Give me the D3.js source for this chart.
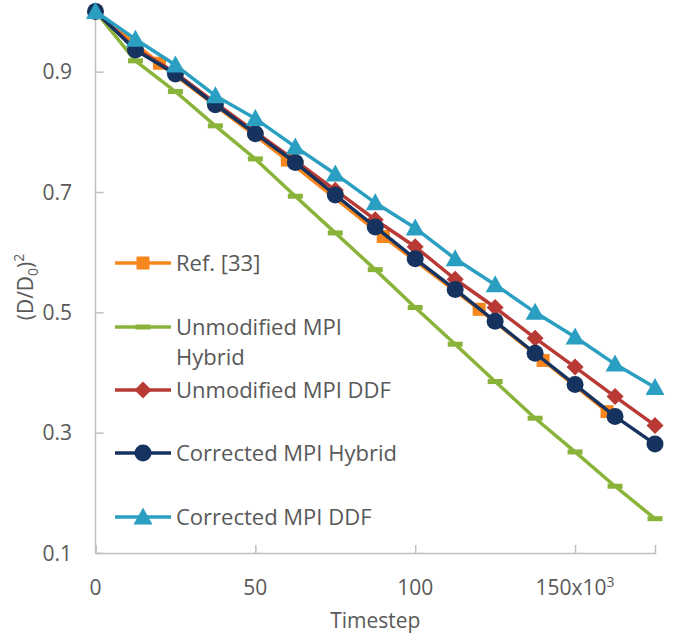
<!DOCTYPE html>
<html><head><meta charset="utf-8">
<script src="https://cdn.jsdelivr.net/npm/d3@7"></script>
<style>
body{margin:0;background:#fff;}
text{font-family:"Open Sans",sans-serif;fill:#595959;}
</style></head>
<body><svg id="c" width="677" height="640"></svg>
<script>
// Data
const timesteps = [0,12.5,25,37.5,50,62.5,75,87.5,100,112.5,125,137.5,150,162.5,175];
const refX = [0,20,60,90,120,140,160];
const refY = [1.0,0.914,0.753,0.626,0.505,0.420,0.335];
const unmodHybrid = [1.0,0.918,0.867,0.810,0.755,0.693,0.632,0.571,0.508,0.447,0.385,0.324,0.268,0.211,0.157];
const unmodDDF = [1.0,0.938,0.898,0.848,0.800,0.752,0.703,0.654,0.609,0.555,0.508,0.457,0.409,0.360,0.312];
const corrHybrid = [1.0,0.936,0.896,0.845,0.797,0.749,0.695,0.642,0.589,0.538,0.485,0.432,0.380,0.327,0.281];
const corrDDF = [1.0,0.954,0.911,0.860,0.822,0.775,0.730,0.682,0.640,0.589,0.546,0.500,0.459,0.414,0.375];
const xTicks = [0,50,100,150];
const yTicks = [0.1,0.3,0.5,0.7,0.9];
const legendNames = ["Ref. [33]","Unmodified MPI Hybrid","Unmodified MPI DDF","Corrected MPI Hybrid","Corrected MPI DDF"];

const svg = d3.select("#c");
const x = d3.scaleLinear().domain([0,175]).range([95.5,655]);
const y = d3.scaleLinear().domain([0.1,1.0]).range([553,11.5]);
const axisCol = "#bfbfbf";

// axes
const gx = svg.append("g").attr("transform","translate(0,553)")
  .call(d3.axisBottom(x).tickValues(xTicks).tickSize(-8).tickFormat(""));
const gy = svg.append("g").attr("transform","translate(95.5,0)")
  .call(d3.axisLeft(y).tickValues(yTicks).tickSize(-8).tickFormat(""));
[gx,gy].forEach(g=>{g.select(".domain").attr("stroke",axisCol).attr("stroke-width",1.5);
  g.selectAll(".tick line").attr("stroke",axisCol).attr("stroke-width",1.5);});
gy.select(".domain").attr("d","M0,"+y(1.0)+"V553");

// tick labels
xTicks.forEach(t=>{
  const tx = svg.append("text").attr("x",x(t)).attr("y",595).attr("text-anchor","middle")
    .style("font-size","21px");
  if(t===150){tx.text("150x10"); tx.append("tspan").attr("dy",-8).style("font-size","14px").text("3");}
  else tx.text(t);
});
yTicks.forEach(t=>{
  svg.append("text").attr("x",72).attr("y",y(t)+7.5).attr("text-anchor","end")
    .style("font-size","21px").text(d3.format(".1f")(t));
});
svg.append("text").attr("x",x(87.5)).attr("y",628).attr("text-anchor","middle")
  .style("font-size","21px").text("Timestep");
const yt = svg.append("text").attr("transform","translate(33,287) rotate(-90)")
  .attr("text-anchor","middle").style("font-size","21px");
yt.append("tspan").text("(D/D");
yt.append("tspan").attr("dy",5).style("font-size","14px").text("0");
yt.append("tspan").attr("dy",-5).text(")");
yt.append("tspan").attr("dy",-9).style("font-size","14px").text("2");

// series
const series = [
  {name:legendNames[0], xs:refX, ys:refY, color:"#f7861c", marker:"square"},
  {name:legendNames[1], xs:timesteps, ys:unmodHybrid, color:"#8ab33a", marker:"dash"},
  {name:legendNames[2], xs:timesteps, ys:unmodDDF, color:"#b93a35", marker:"diamond"},
  {name:legendNames[3], xs:timesteps, ys:corrHybrid, color:"#16335f", marker:"circle"},
  {name:legendNames[4], xs:timesteps, ys:corrDDF, color:"#2b9fc1", marker:"triangle"}
];
function drawMarker(g, m, cx, cy, col){
  if(m==="square") g.append("rect").attr("x",cx-6.5).attr("y",cy-6.5).attr("width",13).attr("height",13).attr("fill",col);
  else if(m==="dash") g.append("rect").attr("x",cx-7.5).attr("y",cy-2.5).attr("width",15).attr("height",5).attr("fill",col);
  else if(m==="diamond") g.append("path").attr("d",`M${cx},${cy-8.5}L${cx+8.5},${cy}L${cx},${cy+8.5}L${cx-8.5},${cy}Z`).attr("fill",col);
  else if(m==="circle") g.append("circle").attr("cx",cx).attr("cy",cy).attr("r",8.5).attr("fill",col);
  else if(m==="triangle") g.append("path").attr("d",`M${cx},${cy-9.5}L${cx+9.5},${cy+7.5}L${cx-9.5},${cy+7.5}Z`).attr("fill",col);
}
const line = d3.line().x(d=>x(d[0])).y(d=>y(d[1]));
series.forEach(s=>{
  const pts = s.xs.map((v,i)=>[v,s.ys[i]]);
  const g = svg.append("g");
  g.append("path").datum(pts).attr("d",line).attr("fill","none").attr("stroke",s.color).attr("stroke-width",3.5).attr("stroke-linejoin","round");
  pts.forEach(p=>drawMarker(g,s.marker,x(p[0]),y(p[1]),s.color));
});

// legend
const rows = [263,327,390,453,517];
series.forEach((s,i)=>{
  const g = svg.append("g");
  g.append("line").attr("x1",115).attr("x2",171).attr("y1",rows[i]).attr("y2",rows[i]).attr("stroke",s.color).attr("stroke-width",3.5);
  drawMarker(g,s.marker,143,rows[i],s.color);
  if(i===1){
    g.append("text").attr("x",176).attr("y",rows[i]+8).style("font-size","22px").text("Unmodified MPI");
    g.append("text").attr("x",176).attr("y",rows[i]+38).style("font-size","22px").text("Hybrid");
  } else {
    g.append("text").attr("x",176).attr("y",rows[i]+8).style("font-size","22px").text(s.name);
  }
});
</script></body></html>
